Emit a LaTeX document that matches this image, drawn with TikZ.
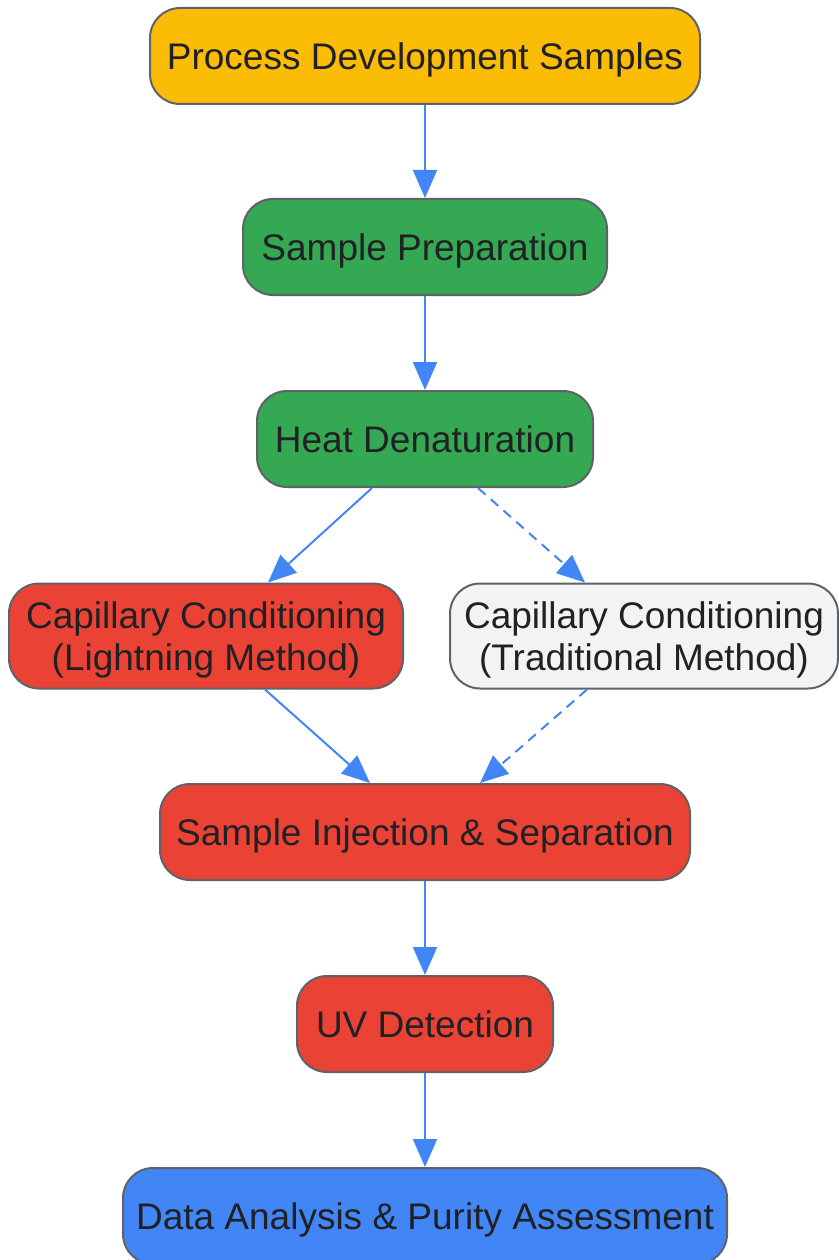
\documentclass[tikz,border=0pt]{standalone}
\usepackage{fontspec}
\setmainfont{Liberation Sans}
\usepackage{tikz}
\usetikzlibrary{positioning,arrows.meta}
\definecolor{gyellow}{HTML}{FBBC05}
\definecolor{ggreen}{HTML}{34A853}
\definecolor{gred}{HTML}{EA4335}
\definecolor{gblue}{HTML}{4285F4}
\definecolor{ggrey}{HTML}{F1F3F4}
\definecolor{gborder}{HTML}{5F6368}
\definecolor{gtext}{HTML}{202124}

\begin{document}
\begin{tikzpicture}[x=1pt,y=-1pt,
    every node/.style={font=\fontsize{37}{42}\selectfont, text=gtext},
    box/.style={draw=gborder, line width=2pt, rounded corners=30pt, minimum height=96pt, align=center, inner sep=0pt, text depth=0pt},
    flow/.style={draw=gblue, line width=2pt, -{Triangle[length=28pt,width=24pt]}},
    alt/.style={flow, dash pattern=on 10pt off 7pt}]
    \useasboundingbox (0,0) rectangle (838,1260);

    % nodes
    \node[box,fill=gyellow,minimum width=550pt] (samples) at (425,56) {Process Development Samples};
    \node[box,fill=ggreen,minimum width=364pt] (prep) at (425,247) {Sample Preparation};
    \node[box,fill=ggreen,minimum width=336pt] (heat) at (425,439) {Heat Denaturation};
    \node[box,fill=gred,minimum width=394pt,minimum height=105pt] (light) at (206,636) {Capillary Conditioning\\(Lightning Method)};
    \node[box,fill=ggrey,minimum width=388pt,minimum height=105pt] (trad) at (644,636) {Capillary Conditioning\\(Traditional Method)};
    \node[box,fill=gred,minimum width=530pt] (inject) at (425,832) {Sample Injection \& Separation};
    \node[box,fill=gred,minimum width=256pt] (uv) at (425,1024) {UV Detection};
    \node[box,fill=gblue,minimum width=604pt] (data) at (425,1216) {Data Analysis \& Purity Assessment};

    % connections
    \draw[flow] (samples) -- (prep);
    \draw[flow] (prep) -- (heat);
    \draw[flow] (heat.south -| 372,0) -- (light.north -| 268,0);
    \draw[alt] (heat.south -| 478,0) -- (trad.north -| 585,0);
    \draw[flow] (light.south -| 265,0) -- (inject.north -| 370,0);
    \draw[alt] (trad.south -| 587,0) -- (inject.north -| 480,0);
    \draw[flow] (inject) -- (uv);
    \draw[flow] (uv) -- (data);
\end{tikzpicture}
\end{document}
